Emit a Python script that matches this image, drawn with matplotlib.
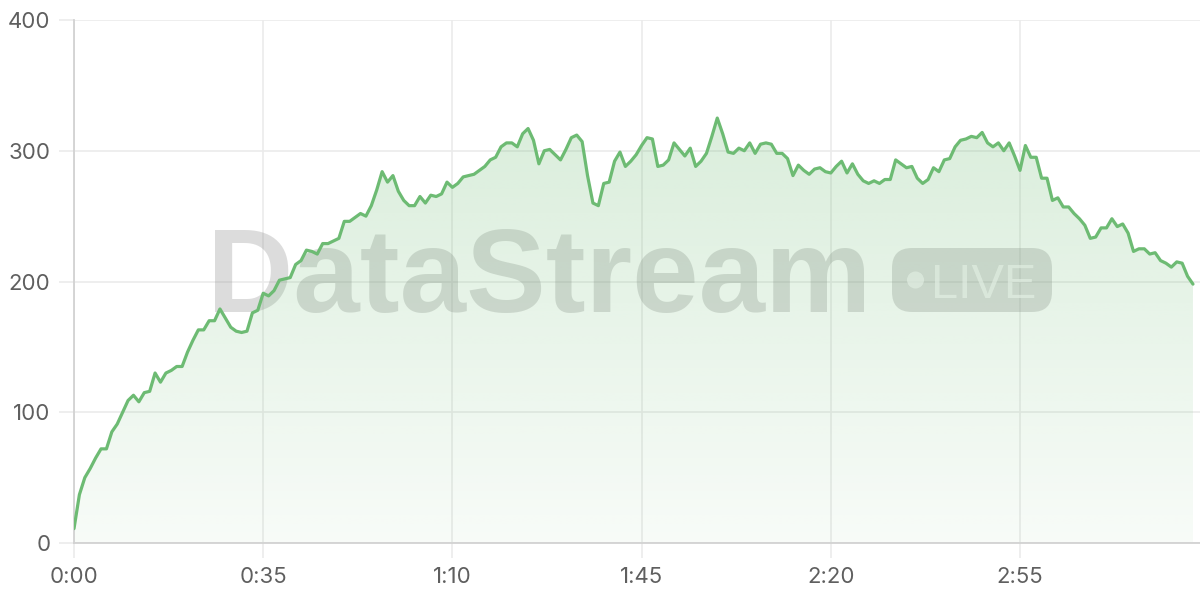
import numpy as np
import matplotlib
matplotlib.use("Agg")
import matplotlib.pyplot as plt
from matplotlib.patches import FancyBboxPatch, Circle, Polygon

# one sample per second
SECONDS = list(range(208))
VALUES = [
    11, 37, 50, 57, 65, 72, 72, 85, 91, 100,
    109, 113, 108, 115, 116, 130, 123, 130, 132, 135,
    135, 146, 155, 163, 163, 170, 170, 179, 172, 165,
    162, 161, 162, 176, 178, 191, 189, 193, 201, 202,
    203, 213, 216, 224, 223, 221, 229, 229, 231, 233,
    246, 246, 249, 252, 250, 258, 270, 284, 276, 281,
    269, 262, 258, 258, 265, 260, 266, 265, 267, 276,
    272, 275, 280, 281, 282, 285, 288, 293, 295, 303,
    306, 306, 303, 313, 317, 308, 290, 300, 301, 297,
    293, 301, 310, 312, 307, 281, 260, 258, 275, 276,
    292, 299, 288, 292, 297, 304, 310, 309, 288, 289,
    293, 306, 301, 296, 302, 288, 292, 298, 311, 325,
    313, 299, 298, 302, 300, 306, 298, 305, 306, 305,
    298, 298, 294, 281, 289, 285, 282, 286, 287, 284,
    283, 288, 292, 283, 290, 282, 277, 275, 277, 275,
    278, 278, 293, 290, 287, 288, 279, 275, 278, 287,
    284, 293, 294, 303, 308, 309, 311, 310, 314, 306,
    303, 306, 300, 306, 296, 285, 304, 295, 295, 279,
    279, 262, 264, 257, 257, 252, 248, 243, 233, 234,
    241, 241, 248, 242, 244, 237, 223, 225, 225, 221,
    222, 216, 214, 211, 215, 214, 204, 198,
]
X_TICKS = [0, 35, 70, 105, 140, 175]
Y_TICKS = [0, 100, 200, 300, 400]

LINE = "#6dbb73"
GRID = "#ebebeb"
LABEL = "#5f5f5f"

t = np.array(SECONDS, dtype=float)
v = np.array(VALUES, dtype=float)

fig = plt.figure(figsize=(12, 6), dpi=100)
ax = fig.add_axes([74 / 1200, 57 / 600, 1126 / 1200, 523 / 600])
ax.set_xlim(0, 208.3)
ax.set_ylim(0, 400)

# gradient fill under the line
ymax = 400
grad = np.zeros((256, 2, 4))
rgb = matplotlib.colors.to_rgb(LINE)
grad[..., 0], grad[..., 1], grad[..., 2] = rgb
grad[..., 3] = np.linspace(0.30, 0.05, 256)[:, None]
img = ax.imshow(grad, extent=[0, 208.3, 0, ymax], origin="upper",
                aspect="auto", zorder=1.2, interpolation="bilinear")
poly = Polygon(np.column_stack([np.r_[t, t[-1], t[0]], np.r_[v, 0, 0]]),
               closed=True, facecolor="none", edgecolor="none")
ax.add_patch(poly)
img.set_clip_path(poly)

ax.plot(t, v, color=LINE, lw=2.3, solid_joinstyle="round",
        solid_capstyle="round", zorder=3)

# watermark
ax.text(2.07, 2.88, "DataStream", transform=fig.dpi_scale_trans,
        fontsize=86, fontweight="bold", family="Liberation Sans",
        color="#808080", alpha=0.27, ha="left", va="baseline", zorder=1.1)
box = FancyBboxPatch((8.92 + 0.2, 2.88 + 0.2), 1.60 - 0.4, 0.64 - 0.4,
                     boxstyle="round,pad=0.2", transform=fig.dpi_scale_trans,
                     facecolor="#808080", edgecolor="none", alpha=0.27, zorder=1.1)
ax.add_patch(box)
ax.add_patch(Circle((9.155, 3.20), 0.085, transform=fig.dpi_scale_trans,
                    facecolor="white", edgecolor="none", alpha=0.6, zorder=1.15))
ax.text(9.31, 3.02, "LIVE", transform=fig.dpi_scale_trans, fontsize=35,
        family="Liberation Sans", color="white", alpha=0.6,
        ha="left", va="baseline", zorder=1.15)

ax.set_xticks(X_TICKS)
ax.set_xticklabels([f"{s // 60}:{s % 60:02d}" for s in X_TICKS])
ax.set_yticks(Y_TICKS)
ax.grid(True, color=GRID, lw=1.2, zorder=0)
ax.set_axisbelow(True)
ax.tick_params(axis="both", length=11, width=1.2, color=GRID,
               labelcolor=LABEL, labelsize=16, pad=6)
for lab in ax.get_xticklabels() + ax.get_yticklabels():
    lab.set_family("Inter")
for side in ("top", "right"):
    ax.spines[side].set_visible(False)
for side in ("left", "bottom"):
    ax.spines[side].set_color("#d2d2d2")
    ax.spines[side].set_linewidth(1.3)

fig.savefig("out.png", dpi=100)
